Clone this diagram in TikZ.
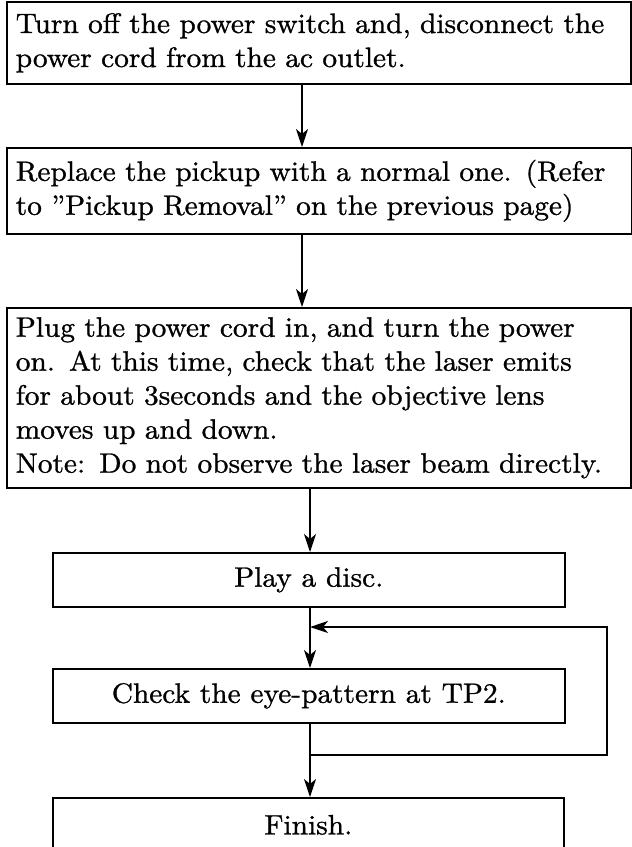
\documentclass[tikz,border=0pt]{standalone}
\usepackage{fontspec}
\setmainfont{lmroman10-regular.otf}[FakeStretch=1.05, FakeBold=1]
\usetikzlibrary{arrows.meta, positioning, calc}

\begin{document}
\begin{tikzpicture}[x=1pt, y=-1pt,
  every node/.style={font=\fontsize{28}{34}\selectfont},
  stepbox/.style={draw, line width=1.6pt, anchor=north west, align=left, inner xsep=9pt, inner ysep=0pt},
  smallbox/.style={draw, line width=1.6pt, anchor=north west, align=center, minimum width=512pt, minimum height=54pt},
  flow/.style={line width=1.6pt, -{Stealth[length=18pt, width=12pt, inset=5pt]}}]
\useasboundingbox (0,0) rectangle (632,847);
\clip (0,0) rectangle (632,847);
% upper steps
\node[stepbox, text width=606pt, minimum height=82pt] (off) at (6,1) {Turn off the power switch and, disconnect the\\power cord from the ac outlet.};
\node[stepbox, text width=607pt, minimum height=86pt] (swap) at (6,147) {Replace the pickup with a normal one. (Refer\\to ”Pickup Removal” on the previous page)};
\node[stepbox, text width=606pt, minimum height=180pt] (plug) at (6,307) {Plug the power cord in, and turn the power\\on. At this time, check that the laser emits\\for about 3seconds and the objective lens\\moves up and down.\\Note: Do not observe the laser beam directly.};
% lower steps
\node[smallbox] (play) at (52,552) {Play a disc.};
\node[smallbox] (eye) at (52,668) {Check the eye-pattern at TP2.};
\node[smallbox, minimum width=511pt] (fin) at (52,797) {Finish.};
\coordinate (upx) at (302,0);
\coordinate (lowx) at (310,0);
\coordinate (loopx) at (607,0);
\coordinate (join) at (310,755);
\coordinate (back) at (310,627);
\draw[flow] (off.south -| upx) -- (swap.north -| upx);
\draw[flow] (swap.south -| upx) -- (plug.north -| upx);
\draw[flow] (plug.south -| lowx) -- (play.north -| lowx);
\draw[flow] (play.south -| lowx) -- (eye.north -| lowx);
\draw[line width=1.6pt] (eye.south -| lowx) -- (join);
\draw[flow] (join) -- (fin.north -| lowx);
\draw[flow] (join) -- (join -| loopx) -- (back -| loopx) -- (back);
\end{tikzpicture}
\end{document}
